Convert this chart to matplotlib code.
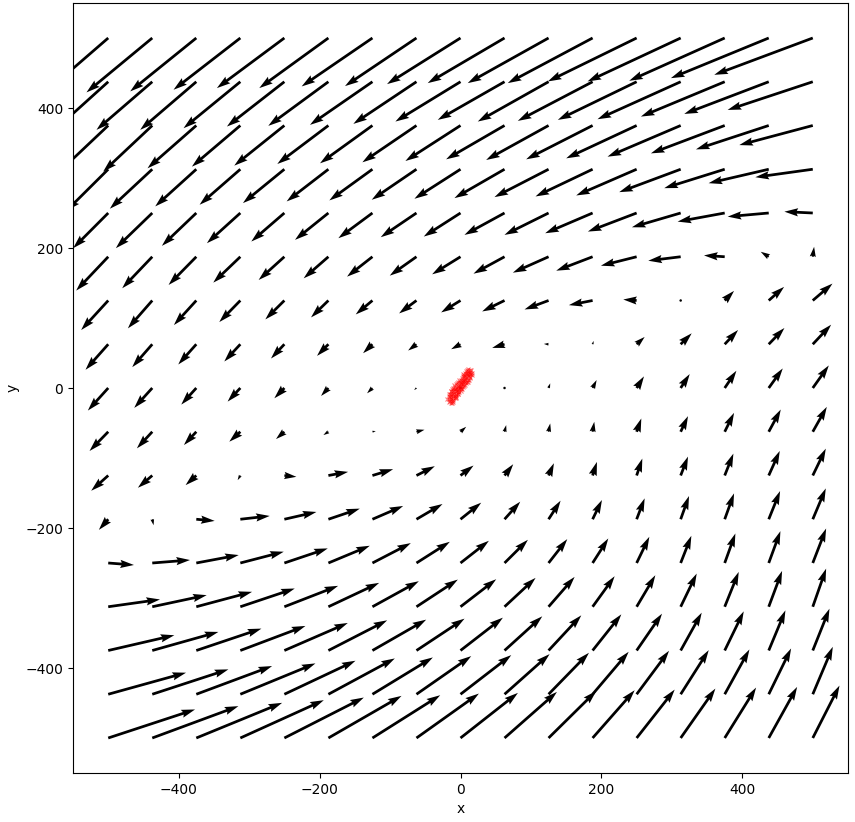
import numpy as np
import matplotlib.pyplot as plt

# grid of arrow tails
xs = [-500, -437.5, -375, -312.5, -250, -187.5, -125, -62.5, 0,
      62.5, 125, 187.5, 250, 312.5, 375, 437.5, 500]
ys = [500, 437.5, 375, 312.5, 250, 187.5, 125, 62.5, 0,
      -62.5, -125, -187.5, -250, -312.5, -375, -437.5, -500]

# arrow components (rows go from y=500 down to y=-500)
u_rows = [
    [-195, -197, -198, -200, -202, -207, -212, -214, -220, -230, -242, -254, -266, -279, -286, -293, -295],
    [-165, -167, -168, -170, -172, -180, -187, -189, -195, -200, -212, -224, -236, -249, -251, -253, -255],
    [-145, -147, -146, -145, -150, -153, -157, -162, -165, -175, -187, -199, -211, -219, -221, -218, -220],
    [-125, -127, -123, -122, -124, -125, -129, -134, -138, -150, -162, -171, -181, -184, -181, -180, -172],
    [-105, -109, -103, -100, -99, -100, -102, -107, -110, -120, -132, -142, -146, -146, -141, -123, -85],
    [-96, -90, -83, -81, -77, -74, -76, -80, -85, -93, -107, -109, -107, -97, -62, -24, 4],
    [-81, -73, -67, -63, -57, -52, -50, -52, -58, -67, -72, -71, -40, -3, 28, 46, 59],
    [-68, -60, -54, -48, -40, -34, -28, -25, -28, -37, -14, 3, 24, 33, 40, 47, 55],
    [-61, -54, -45, -38, -30, -22, -16, -7, 0, 2, 5, 12, 22, 27, 35, 42, 48],
    [-56, -46, -37, -33, -25, -15, 10, 24, 17, 5, 5, 5, 14, 22, 28, 36, 42],
    [-51, -43, -32, -8, 36, 59, 62, 55, 39, 26, 16, 13, 17, 22, 26, 33, 39],
    [-28, 4, 55, 88, 96, 94, 92, 78, 62, 47, 36, 28, 24, 25, 28, 34, 39],
    [77, 113, 127, 130, 130, 124, 115, 100, 85, 70, 56, 47, 38, 32, 32, 35, 40],
    [155, 163, 167, 163, 161, 152, 139, 124, 107, 93, 78, 66, 56, 48, 42, 40, 40],
    [198, 198, 195, 195, 190, 176, 161, 144, 127, 113, 98, 86, 76, 63, 57, 50, 50],
    [233, 228, 227, 225, 213, 199, 181, 164, 152, 135, 121, 108, 97, 84, 74, 67, 60],
    [260, 258, 257, 250, 238, 219, 203, 187, 172, 157, 143, 126, 114, 104, 94, 85, 80],
]
v_rows = [
    [-170, -164, -161, -156, -151, -151, -146, -145, -139, -136, -136, -136, -131, -131, -129, -121, -111],
    [-150, -145, -145, -140, -135, -133, -130, -127, -120, -115, -120, -118, -115, -113, -105, -97, -85],
    [-138, -139, -129, -124, -121, -116, -114, -111, -107, -102, -104, -102, -99, -94, -84, -72, -59],
    [-125, -119, -112, -107, -102, -97, -94, -92, -89, -87, -84, -82, -79, -69, -57, -42, -24],
    [-106, -106, -99, -91, -86, -81, -76, -73, -71, -66, -66, -61, -56, -43, -26, -11, 4],
    [-102, -95, -85, -78, -70, -65, -60, -57, -53, -51, -48, -42, -27, -12, 4, 15, 30],
    [-89, -84, -74, -65, -57, -51, -42, -39, -36, -33, -27, -14, 3, 6, 29, 41, 51],
    [-77, -69, -61, -52, -43, -35, -27, -19, -15, -11, 1, 10, 22, 33, 43, 49, 59],
    [-68, -60, -50, -41, -31, -24, -16, -6, 0, 3, 14, 24, 35, 42, 52, 59, 68],
    [-58, -50, -40, -30, -22, -10, 2, 6, 15, 20, 25, 30, 40, 47, 57, 67, 75],
    [-46, -37, -29, -14, -4, 11, 19, 28, 30, 34, 37, 41, 51, 57, 66, 74, 81],
    [-32, -18, -5, 10, 22, 32, 40, 46, 50, 53, 56, 58, 63, 70, 78, 85, 93],
    [-6, 9, 24, 34, 44, 52, 60, 64, 67, 70, 72, 74, 79, 82, 89, 96, 104],
    [22, 35, 45, 55, 63, 72, 77, 82, 83, 87, 90, 92, 95, 100, 105, 108, 115],
    [46, 56, 66, 74, 83, 91, 93, 96, 99, 103, 106, 109, 111, 114, 118, 121, 126],
    [65, 75, 85, 93, 101, 108, 111, 115, 118, 121, 125, 128, 131, 133, 135, 138, 143],
    [86, 96, 106, 114, 122, 127, 129, 134, 136, 139, 142, 144, 146, 149, 152, 154, 158],
]

# red sample points near the origin
pts_x = [-17, -16, -15, -15, -14, -13, -13, -12, -12, -11, -11, -10, -10, -9, -9, -8, -8, -7, -7, -6,
         -6, -5, -5, -4, -4, -3, -3, -2, -2, -1, 0, 0, 1, 1, 2, 2, 3, 4, 4, 5,
         5, 6, 6, 7, 7, 8, 8, 9, 9, 10, 10, 11, 11, 12, 12, 13, 13, 14, 15, 15,
         -19, -17, -15, -14, -12, -10, -8, -7, -5, -3, -1, 0, 2, 3, 5, 6, 8, 10,
         -16, -13, -9, -2, 4, 9,
         -14, -12, -10, -8, -6, -4, -2, 0, 2, 4, 6, 8, 10, 12, 14, 16, 17,
         -11, -7, -3, 1, 5, 9, 13]
pts_y = [-20, -16, -19, -13, -16, -10, -14, -18, -8, -12, -5, -9, -14, -3, -7, -11, -1, -5, -8, -2,
         -10, 0, -5, 3, -3, 1, -6, 4, -2, 2, 5, 0, 7, 3, 10, 5, 8, 12, 6, 15,
         10, 13, 8, 17, 11, 20, 14, 16, 22, 18, 12, 24, 20, 17, 22, 26, 20, 23, 25, 20,
         -16, -12, -8, -5, -2, 0, 2, 5, 7, 8, 9, 11, 14, 17, 19, 22, 24, 27,
         -9, -4, 4, 12, 20, 25,
         -22, -21, -17, -15, -13, -9, -6, -4, -1, 2, 4, 7, 9, 12, 15, 18, 22,
         -20, -14, -8, -2, 3, 8, 14]

X, Y = np.meshgrid(xs, ys)
U = np.array(u_rows, dtype=float)
V = np.array(v_rows, dtype=float)

fig = plt.figure(figsize=(8.55, 8.22), dpi=100)
ax = fig.add_axes([73/855, 49/822, 775/855, 770/822])

ax.quiver(X, Y, U, V, angles='xy', scale_units='xy', scale=2.11)
ax.plot(pts_x, pts_y, 'x', color='red', ms=3, mew=0.8, alpha=0.5)

ax.set_xlim(-550, 550)
ax.set_ylim(-550, 550)
ax.set_xticks([-400, -200, 0, 200, 400])
ax.set_yticks([-400, -200, 0, 200, 400])
ax.set_xlabel('x')
ax.set_ylabel('y')

fig.savefig('out.png', dpi=100)
